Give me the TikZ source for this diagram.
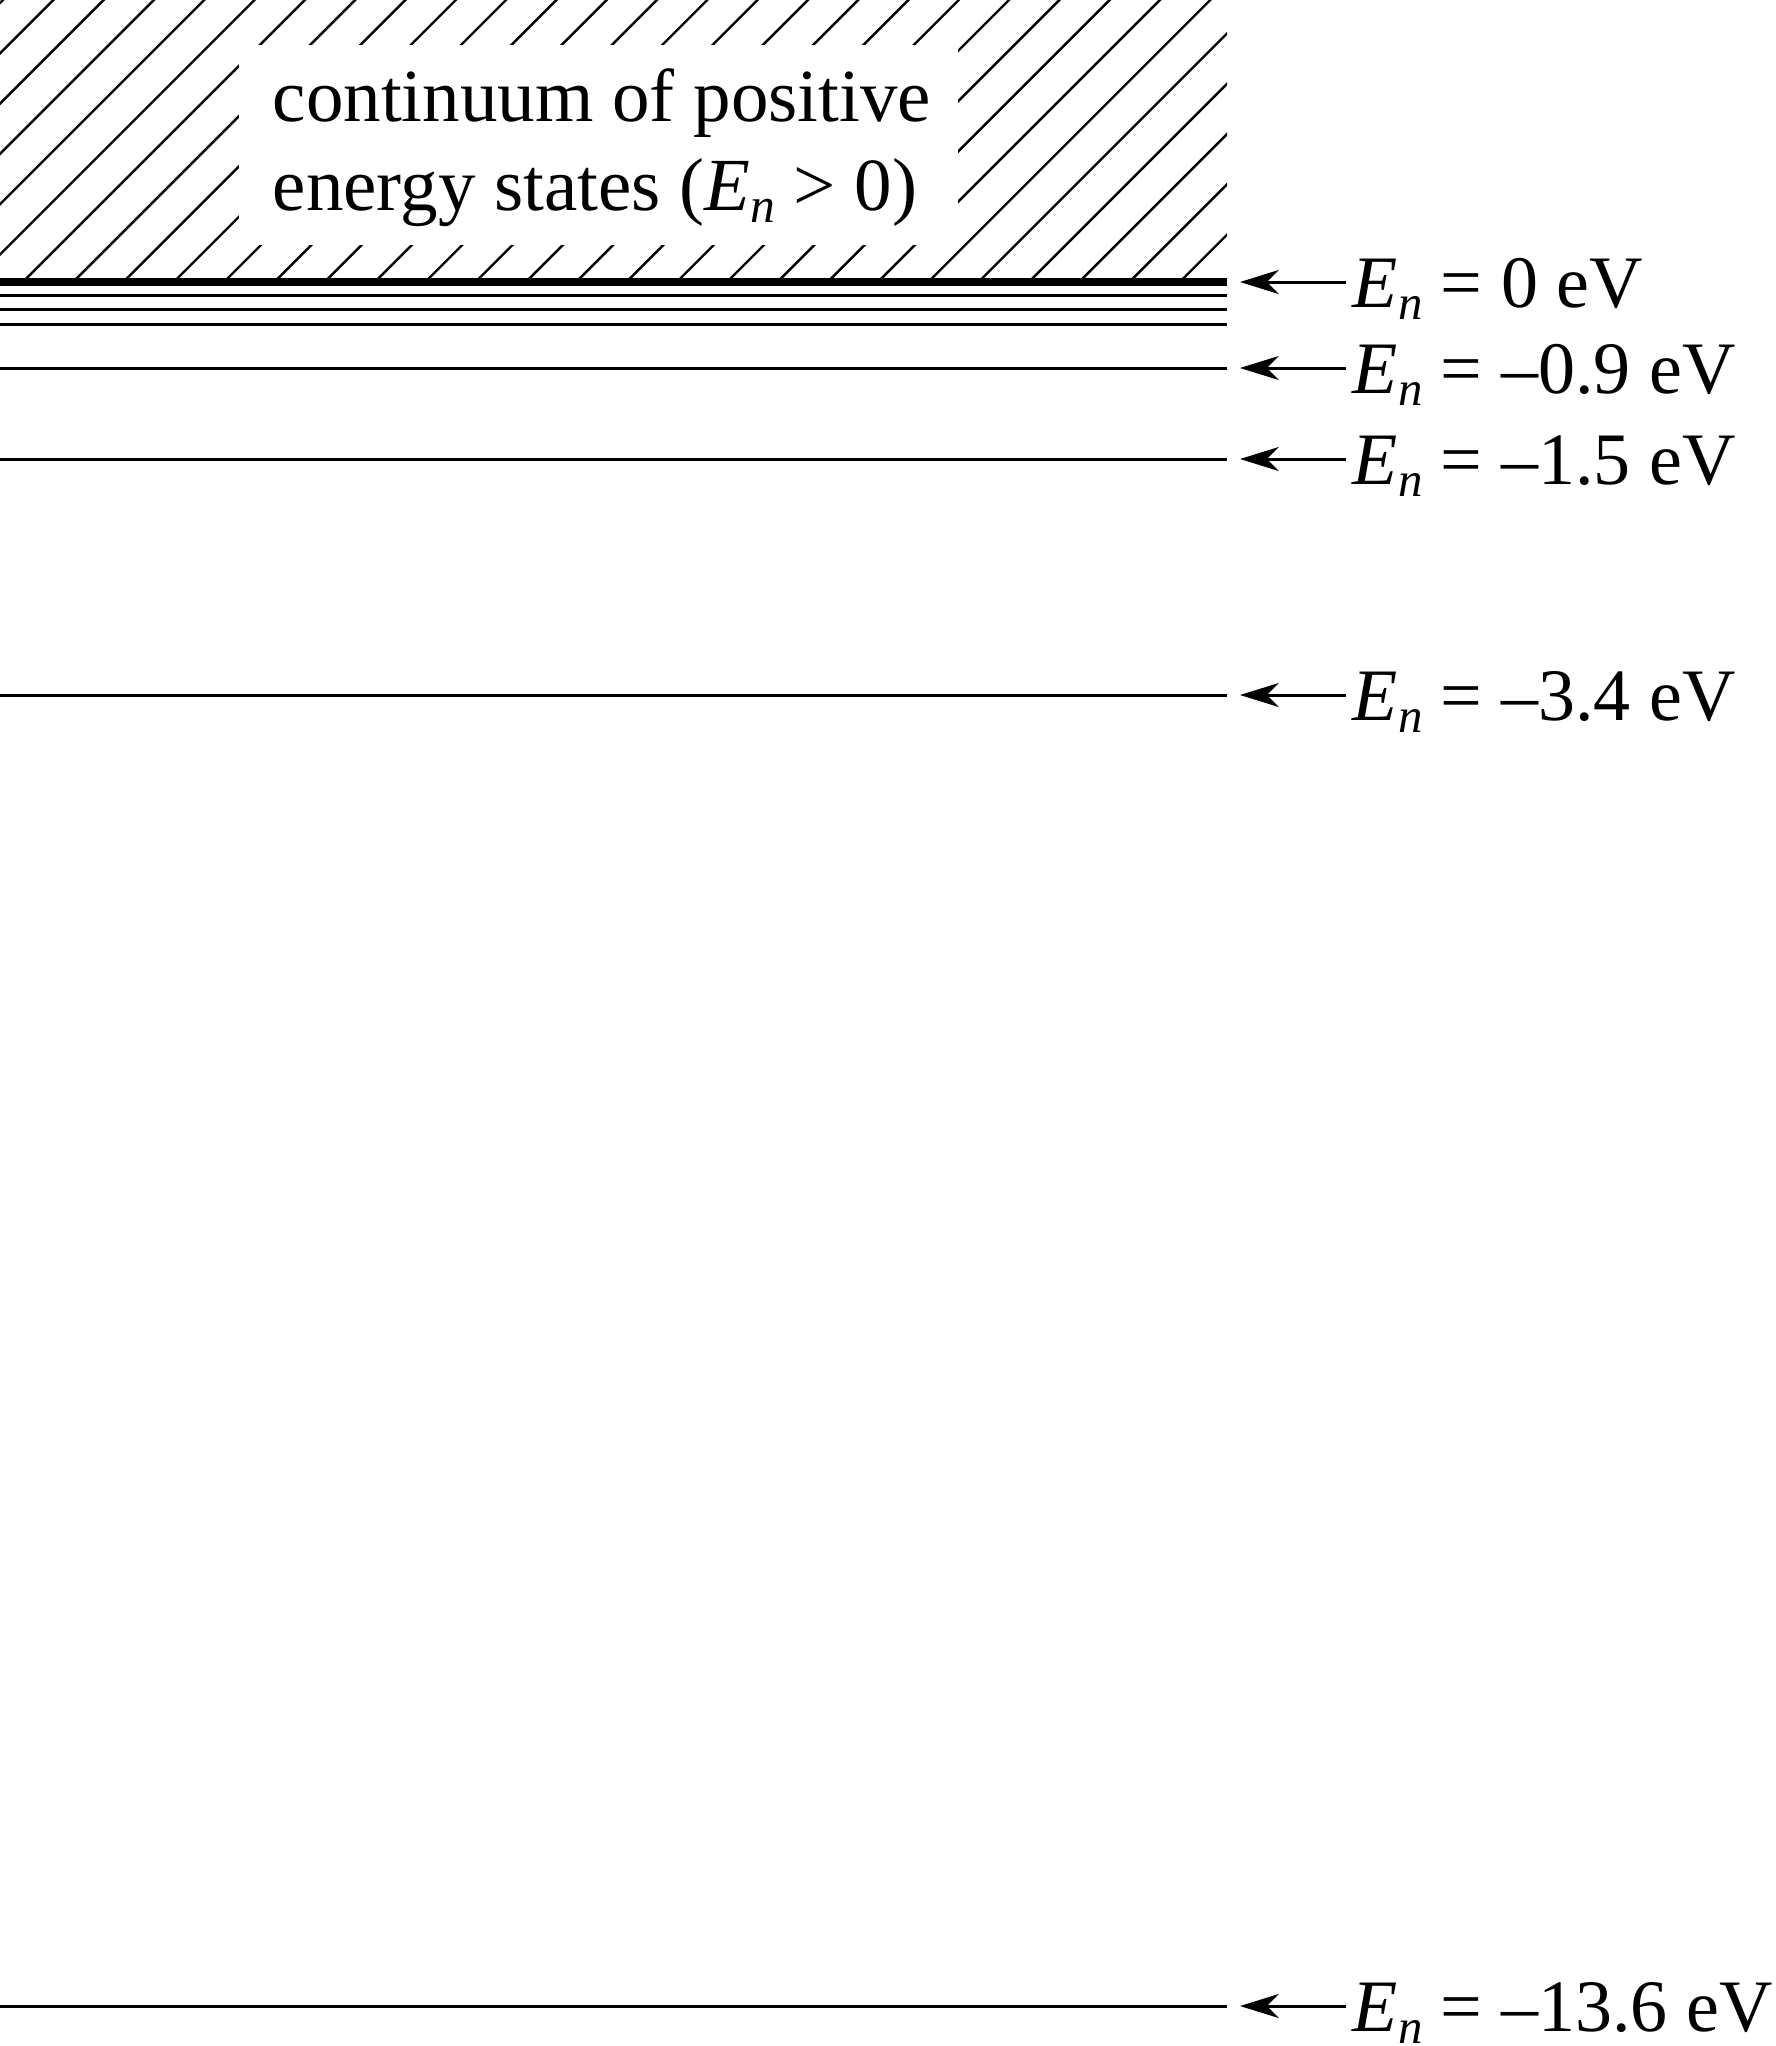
\documentclass[tikz,border=0pt]{standalone}
\usepackage{fontspec}
\setmainfont{Liberation Serif}
\usetikzlibrary{arrows.meta}
\newcommand{\Enn}{\textit{E}\raisebox{-0.17em}{\scalebox{0.66}{\textit{n}}}}
\begin{document}
\begin{tikzpicture}[x=0.25pt,y=-0.25pt,
  levelline/.style={line width=0.75pt},
  toplevel/.style={line width=2pt},
  hatchline/.style={line width=0.6pt},
  arr/.style={line width=0.75pt,-{Stealth[length=9.7pt,width=6pt,inset=3pt]}},
  lab/.style={font=\fontsize{18.5pt}{22pt}\selectfont, inner sep=0pt, anchor=base west},
  cont/.style={font=\fontsize{18.75pt}{22.25pt}\selectfont, inner sep=0pt, anchor=base west}]
\useasboundingbox (0,0) rectangle (1776,2046);
% hatching of the continuum
\begin{scope}
  \clip (0,0) rectangle (1227,282);
  \foreach \k in {0,...,31}
    \draw[hatchline] ({13+50.3*\k},-10) -- ({3+50.3*\k-300},300);
\end{scope}
\fill[white] (239,45) rectangle (958,245);
\node[cont] (t1) at (272,121) {continuum of positive};
\node[cont] (t2) at (272,210) {energy states (\Enn\ > 0)};
% levels
\coordinate (L0a) at (0,282);   \coordinate (L0b) at (1227,282);
\coordinate (La) at (0,295);    \coordinate (Lb) at (1227,295);
\coordinate (Ma) at (0,309.5);  \coordinate (Mb) at (1227,309.5);
\coordinate (Na) at (0,324);    \coordinate (Nb) at (1227,324);
\coordinate (L1a) at (0,368);   \coordinate (L1b) at (1227,368);
\coordinate (L2a) at (0,459);   \coordinate (L2b) at (1227,459);
\coordinate (L3a) at (0,695);   \coordinate (L3b) at (1227,695);
\coordinate (L4a) at (0,2006);  \coordinate (L4b) at (1227,2006);
\draw[toplevel] (L0a) -- (L0b);
\draw[levelline] (La) -- (Lb);
\draw[levelline] (Ma) -- (Mb);
\draw[levelline] (Na) -- (Nb);
\draw[levelline] (L1a) -- (L1b);
\draw[levelline] (L2a) -- (L2b);
\draw[levelline] (L3a) -- (L3b);
\draw[levelline] (L4a) -- (L4b);
% labels
\node[lab] (e0) at (1352,307) {\Enn\ = 0 eV};
\node[lab] (e1) at (1352,393) {\Enn\ = \textendash0.9 eV};
\node[lab] (e2) at (1352,484) {\Enn\ = \textendash1.5 eV};
\node[lab] (e3) at (1352,720) {\Enn\ = \textendash3.4 eV};
\node[lab] (e4) at (1352,2031) {\Enn\ = \textendash13.6 eV};
\coordinate (a0) at (1240,282);
\coordinate (a1) at (1240,368);
\coordinate (a2) at (1240,459);
\coordinate (a3) at (1240,695);
\coordinate (a4) at (1240,2006);
\draw[arr] ([xshift=-1.5pt]e0.west |- a0) -- (a0);
\draw[arr] ([xshift=-1.5pt]e1.west |- a1) -- (a1);
\draw[arr] ([xshift=-1.5pt]e2.west |- a2) -- (a2);
\draw[arr] ([xshift=-1.5pt]e3.west |- a3) -- (a3);
\draw[arr] ([xshift=-1.5pt]e4.west |- a4) -- (a4);
\end{tikzpicture}
\end{document}
